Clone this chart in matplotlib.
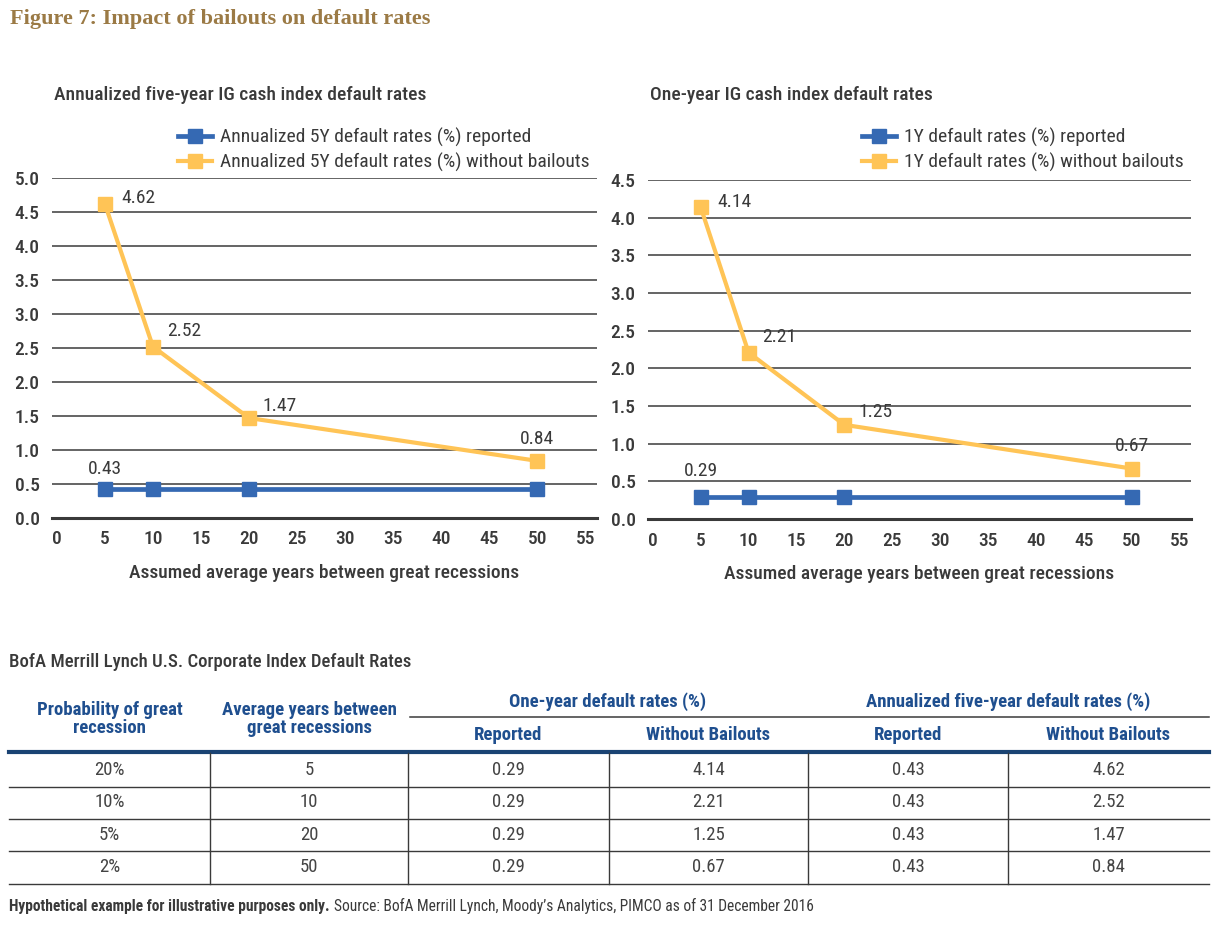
import matplotlib
matplotlib.use("Agg")
import matplotlib.pyplot as plt
from matplotlib import font_manager

# ---- data ----
years = [5, 10, 20, 50]
five_y_reported = [0.43, 0.43, 0.43, 0.43]
five_y_no_bailout = [4.62, 2.52, 1.47, 0.84]
one_y_reported = [0.29, 0.29, 0.29, 0.29]
one_y_no_bailout = [4.14, 2.21, 1.25, 0.67]

probabilities = ["20%", "10%", "5%", "2%"]

x_ticks = list(range(0, 60, 5))
left_y_ticks = [0.0, 0.5, 1.0, 1.5, 2.0, 2.5, 3.0, 3.5, 4.0, 4.5, 5.0]
right_y_ticks = [0.0, 0.5, 1.0, 1.5, 2.0, 2.5, 3.0, 3.5, 4.0, 4.5]

BLUE = "#3569b3"
YELLOW = "#ffc456"
DARK = "#3a3a3a"
GOLD = "#9b7a45"
NAVY_TXT = "#1f4f8f"
NAVY_LINE = "#1a4373"


def pick_font(names):
    for n in names:
        try:
            font_manager.findfont(font_manager.FontProperties(family=n), fallback_to_default=False)
            return n
        except Exception:
            pass
    return "DejaVu Sans"


SANS = pick_font(["Liberation Sans Narrow", "Roboto Condensed", "Open Sans Condensed", "Lato", "Roboto"])
SERIF = pick_font(["Liberation Serif", "DejaVu Serif"])
plt.rcParams["font.family"] = [SANS, "DejaVu Sans"]

FS = 14

W, H = 1219, 927
fig = plt.figure(figsize=(W / 100, H / 100), dpi=100)


def fx(px):
    return px / W


def fy(py):
    return 1 - py / H


def draw_chart(ax, reported, no_bail, yticks, ymax, labels, subtitle, sub_x, leg_x, blue_lab_dy):
    ax.plot(years, reported, color=BLUE, lw=3.4, marker="s", ms=10, mec=BLUE, zorder=3, label=labels[0])
    ax.plot(years, no_bail, color=YELLOW, lw=3.0, marker="s", ms=10, mec=YELLOW, zorder=3, label=labels[1])
    ax.set_xlim(-0.5, 56.2)
    ax.set_ylim(0, ymax)
    ax.set_xticks(x_ticks)
    ax.set_yticks(yticks)
    ax.set_yticklabels(["%.1f" % v for v in yticks])
    for s in ax.spines.values():
        s.set_visible(False)
    ax.tick_params(length=0, labelsize=FS, colors=DARK, pad=9)
    ax.tick_params(axis="x", pad=9)
    for t in ax.get_xticklabels() + ax.get_yticklabels():
        t.set_fontweight("medium")
    for v in yticks[1:]:
        ax.axhline(v, color=DARK, lw=1.1, zorder=1)
    ax.axhline(0, color=DARK, lw=2.2, zorder=1, clip_on=False)
    ax.set_xlabel("Assumed average years between great recessions", fontsize=FS,
                  color=DARK, fontweight="medium", labelpad=11)
    # labels on the yellow line
    offs = [(12, 4), (10, 11), (10, 9)]
    for i, (x, v) in enumerate(zip(years, no_bail)):
        if i < 3:
            ax.annotate("%.2f" % v, (x, v), xytext=offs[i], textcoords="offset points",
                        ha="left", va="center", fontsize=FS, color=DARK)
        else:
            ax.annotate("%.2f" % v, (x, v), xytext=(0, 16), textcoords="offset points",
                        ha="center", va="center", fontsize=FS, color=DARK)
    ax.annotate("%.2f" % reported[0], (years[0], reported[0]), xytext=(0, blue_lab_dy),
                textcoords="offset points", ha="center", va="center", fontsize=FS, color=DARK)
    fig.text(fx(sub_x), fy(95), subtitle, fontsize=FS, color=DARK, ha="left", va="center",
             fontweight="medium")
    ax.legend(loc="upper left", bbox_to_anchor=(fx(leg_x), fy(128)), bbox_transform=fig.transFigure,
              frameon=False, borderpad=0, borderaxespad=0, handlelength=1.75, handletextpad=0.4,
              labelspacing=0.3, fontsize=FS, labelcolor=DARK, markerscale=1.0)


ax1 = fig.add_axes([fx(52), fy(518), fx(597 - 52), (518 - 178) / H])
draw_chart(ax1, five_y_reported, five_y_no_bailout, left_y_ticks, 5.0,
           ["Annualized 5Y default rates (%) reported", "Annualized 5Y default rates (%) without bailouts"],
           "Annualized five-year IG cash index default rates", 54, 178, 14)

ax2 = fig.add_axes([fx(648), fy(519), fx(1191 - 648), (519 - 180) / H])
draw_chart(ax2, one_y_reported, one_y_no_bailout, right_y_ticks, 4.5,
           ["1Y default rates (%) reported", "1Y default rates (%) without bailouts"],
           "One-year IG cash index default rates", 650, 862, 19)

fig.text(fx(10), fy(19), "Figure 7: Impact of bailouts on default rates", family=SERIF,
         fontsize=16, fontweight="bold", color=GOLD, ha="left", va="center")

# ---- table ----
tax = fig.add_axes([0, 0, 1, 1])
tax.set_xlim(0, W)
tax.set_ylim(H, 0)
tax.axis("off")

TS = 13.5
tax.text(9, 662, "BofA Merrill Lynch U.S. Corporate Index Default Rates", fontsize=TS,
         fontweight="medium", color=DARK, ha="left", va="center")

col_edges = [9, 210, 408, 609, 808, 1008, 1209]
centers = [(a + b) / 2 for a, b in zip(col_edges[:-1], col_edges[1:])]
hdr = dict(fontsize=TS, fontweight="bold", color=NAVY_TXT, ha="center", va="center")
tax.text(centers[0], 719, "Probability of great\nrecession", linespacing=1.0, **hdr)
tax.text(centers[1], 719, "Average years between\ngreat recessions", linespacing=1.0, **hdr)
tax.text((col_edges[2] + col_edges[4]) / 2, 702, "One-year default rates (%)", **hdr)
tax.text((col_edges[4] + col_edges[6]) / 2, 702, "Annualized five-year default rates (%)", **hdr)
for c, s in zip(centers[2:], ["Reported", "Without Bailouts", "Reported", "Without Bailouts"]):
    tax.text(c, 735, s, **hdr)
tax.plot([410, 1209], [717, 717], color=DARK, lw=1.1)
tax.plot([9, 1209], [752, 752], color=NAVY_LINE, lw=3)

row_lines = [787, 819, 851, 884]
row_centers = [770, 802, 835, 867]
for y in row_lines:
    tax.plot([9, 1209], [y, y], color=DARK, lw=1.0)
for x in col_edges[1:-1]:
    tax.plot([x, x], [753, 884], color=DARK, lw=1.0)

cell = dict(fontsize=TS, color="#444444", ha="center", va="center")
for i, yc in enumerate(row_centers):
    row = [probabilities[i], str(years[i]), "%.2f" % one_y_reported[i], "%.2f" % one_y_no_bailout[i],
           "%.2f" % five_y_reported[i], "%.2f" % five_y_no_bailout[i]]
    for c, s in zip(centers, row):
        tax.text(c, yc, s, **cell)

# footnote: bold part then regular part
t1 = tax.text(9, 906, "Hypothetical example for illustrative purposes only.", fontsize=11.2,
              fontweight="bold", color=DARK, ha="left", va="center")
fig.canvas.draw()
bb = t1.get_window_extent()
x_end = tax.transData.inverted().transform((bb.x1, bb.y0))[0]
tax.text(x_end + 4, 906, "Source: BofA Merrill Lynch, Moody\u2019s Analytics, PIMCO as of 31 December 2016",
         fontsize=11.2, color=DARK, ha="left", va="center")

fig.savefig("out.png", dpi=100)
